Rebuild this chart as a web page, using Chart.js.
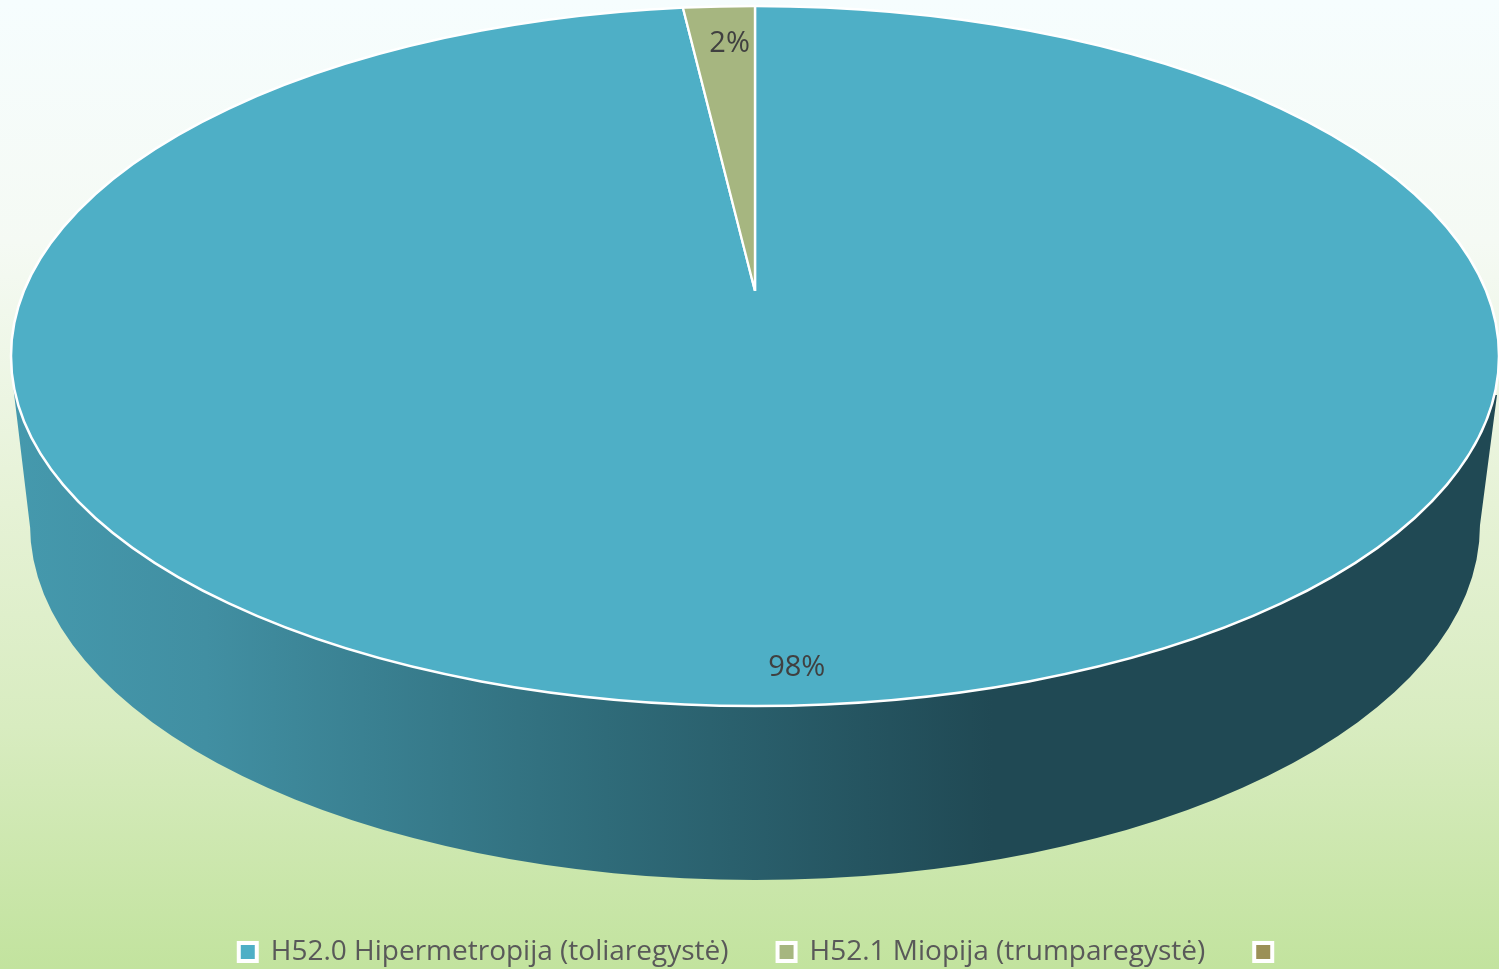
<!DOCTYPE html>
<html>
<head>
<meta charset="utf-8">
<title>H52</title>
<script src="https://cdn.jsdelivr.net/npm/chart.js@4"></script>
<style>
html, body { margin: 0; padding: 0; width: 1499px; height: 969px; overflow: hidden; }
body { background: linear-gradient(180deg, #f6fdfe 0%, #f5faf4 25%, #e6f2d6 52%, #d8ecc0 75%, #c2e39e 100%); }
canvas { display: block; }
</style>
</head>
<body>
<canvas id="chart" width="1499" height="969"></canvas>
<script>
var categories = ["H52.0 Hipermetropija (toliaregystė)", "H52.1 Miopija (trumparegystė)", ""];
var values = [98, 2, 0];
var colors = ["#4eafc6", "#a6b680", "#9b9057"];

// how the round pie is laid over on its side
var apex = { x: 755, y: 291 };
var top_face = { x: 755, y: 356, rx: 744, ry: 350 };
var bottom_face = { x: 755, y: 525, rx: 725, ry: 355 };
var stretch_x = 2, stretch_y = 0.993;
var label_spots = [{ r: 0.856, dx: -6 }, { r: 0.563, dx: 6 }];

var pie3d = {
    id: 'pie3d',
    beforeDatasetsDraw: function (chart) {
        var ctx = chart.ctx;
        var arc = chart.getDatasetMeta(0).data[0];

        // side wall of the cylinder
        var grad = ctx.createLinearGradient(13, 0, 1497, 0);
        grad.addColorStop(0, '#4599ad');
        grad.addColorStop(0.13, '#418fa2');
        grad.addColorStop(0.4, '#2f6b79');
        grad.addColorStop(0.66, '#204954');
        grad.addColorStop(1, '#204954');
        ctx.save();
        ctx.beginPath();
        ctx.moveTo(13, 385);
        ctx.lineTo(31, 535);
        ctx.ellipse(bottom_face.x, bottom_face.y, bottom_face.rx, bottom_face.ry, 0, Math.PI, 0, true);
        ctx.lineTo(1497, 395);
        ctx.closePath();
        ctx.fillStyle = grad;
        ctx.fill();
        ctx.restore();

        ctx.save();
        ctx.beginPath();
        ctx.ellipse(top_face.x, top_face.y, top_face.rx, top_face.ry, 0, 0, Math.PI * 2);
        ctx.clip();
        ctx.translate(apex.x, apex.y);
        ctx.scale(stretch_x, stretch_y);
        ctx.translate(-arc.x, -arc.y);
    },
    afterDatasetsDraw: function (chart) {
        var ctx = chart.ctx;
        var meta = chart.getDatasetMeta(0);
        ctx.restore();

        ctx.beginPath();
        ctx.ellipse(top_face.x, top_face.y, top_face.rx, top_face.ry, 0, 0, Math.PI * 2);
        ctx.strokeStyle = '#ffffff';
        ctx.lineWidth = 2.5;
        ctx.stroke();

        var total = values.reduce(function (a, b) { return a + b; }, 0);
        ctx.font = '29px "Open Sans"';
        ctx.fillStyle = '#404040';
        ctx.textAlign = 'center';
        ctx.textBaseline = 'middle';
        label_spots.forEach(function (spot, i) {
            var el = meta.data[i];
            var mid = (el.startAngle + el.endAngle) / 2;
            var r = el.outerRadius * spot.r;
            var x = apex.x + Math.cos(mid) * r * stretch_x + spot.dx;
            var y = apex.y + Math.sin(mid) * r * stretch_y;
            ctx.fillText(Math.round(values[i] / total * 100) + '%', x, y);
        });
    }
};

var ctx = document.getElementById('chart').getContext('2d');
var myChart = new Chart(ctx, {
    type: 'pie',
    data: {
        labels: categories,
        datasets: [{
            data: values,
            backgroundColor: colors,
            borderColor: '#ffffff',
            borderWidth: 1.2,
            clip: false
        }]
    },
    options: {
        responsive: false,
        animation: false,
        layout: { padding: { left: 26, bottom: -7 } },
        plugins: {
            tooltip: { enabled: false },
            legend: {
                position: 'bottom',
                labels: {
                    boxWidth: 18,
                    boxHeight: 18,
                    padding: 49,
                    color: '#595959',
                    font: { family: '"Open Sans"', size: 28 },
                    generateLabels: function () {
                        return categories.map(function (c, i) {
                            return { text: c, fillStyle: colors[i], strokeStyle: '#ffffff', lineWidth: 4, index: i, fontColor: '#595959' };
                        });
                    }
                }
            }
        }
    },
    plugins: [pie3d]
});
</script>
</body>
</html>
